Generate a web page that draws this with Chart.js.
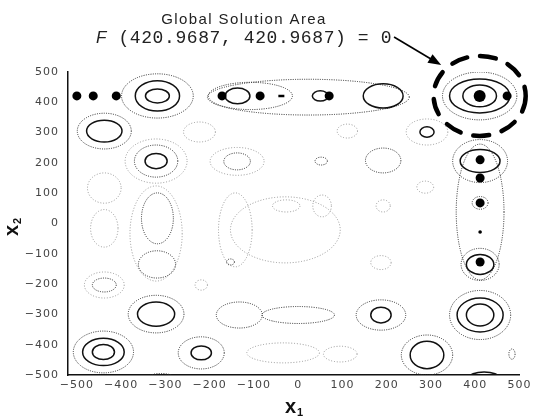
<!DOCTYPE html>
<html>
<head>
<meta charset="utf-8">
<script src="https://cdn.jsdelivr.net/npm/chart.js@4.4.1/dist/chart.umd.min.js"></script>
<style>
  html, body { margin: 0; padding: 0; background: #fff; }
</style>
</head>
<body>
<canvas id="chart" width="534" height="416"></canvas>
<script>
const xTicks = [-500, -400, -300, -200, -100, 0, 100, 200, 300, 400, 500];
const yTicks = [-500, -400, -300, -200, -100, 0, 100, 200, 300, 400, 500];

// local minima (black dots)
const minimaX = [-500, -463, -411, -172, -86, 70, 472, 411, 411, 411, 411];
const minimaY = [421, 421, 421, 421, 421, 421, 421, 210, 150, 68, -127];
const globalX = [410];
const globalY = [421];
const dashX = [-38];
const dashY = [421];
const tinyX = [411];
const tinyY = [-28];

// dashed "global solution area" half-widths around the global minimum
const solutionArea = [104, 132];

// contour rings: [centre x, centre y, half width, half height]
const solidRings = [
  [-318, 421, 27, 23], [-318, 421, 50, 50], [-137, 421, 28, 26], [50, 421, 18, 17],
  [192, 421, 45, 40], [410, 421, 38, 36], [410, 421, 68, 56],
  [-438, 305, 40, 36], [291, 302, 16, 17],
  [-321, 206, 25, 25], [411, 206, 45, 38],
  [411, -135, 31, 33],
  [-321, -299, 42, 40], [187, -302, 23, 26], [411, -302, 31, 36], [411, -302, 52, 56],
  [-440, -424, 25, 25], [-440, -424, 47, 45], [-219, -427, 23, 23], [291, -434, 38, 45],
  [420, -510, 35, 20]
];
const dottedRings = [
  [-318, 421, 81, 73], [-108, 421, 95, 45], [23, 417, 228, 59], [410, 421, 84, 79],
  [-438, 305, 61, 59],
  [-321, 206, 49, 53], [-138, 205, 30, 28], [52, 206, 14, 13], [192, 208, 40, 41], [411, 206, 62, 71],
  [-318, 17, 36, 84], [-319, -135, 42, 45], [411, 38, 54, 224], [411, -135, 43, 53],
  [411, 68, 18, 21], [-153, -127, 9, 10],
  [-438, -203, 27, 23],
  [-321, -299, 63, 62], [-133, -302, 52, 43], [0, -302, 82, 28], [187, -302, 56, 50], [411, -302, 69, 81],
  [-440, -424, 68, 69], [-219, -427, 52, 53], [291, -434, 58, 66], [483, -431, 7, 17],
  [-310, -515, 35, 20]
];
const faintRings = [
  [-223, 302, 36, 33], [111, 305, 23, 23], [291, 302, 47, 43],
  [-321, 206, 70, 73], [-138, 205, 61, 46],
  [-438, 117, 38, 50], [-438, -16, 31, 62], [-321, -33, 59, 157], [-142, -21, 38, 122],
  [-27, 58, 31, 20], [54, 58, 21, 36], [192, 58, 16, 20], [187, -129, 23, 23], [287, 120, 19, 20],
  [-29, -21, 124, 109],
  [-438, -203, 45, 43], [-219, -203, 14, 17],
  [-34, -427, 82, 33], [95, -431, 38, 26]
];

const pts = (xs, ys) => xs.map((x, i) => ({ x: x, y: ys[i] }));
const fmt = v => v < 0 ? '\u2212' + (-v) : String(v);

function ellipse(ctx, xs, ys, r) {
  const cx = xs.getPixelForValue(r[0]);
  const cy = ys.getPixelForValue(r[1]);
  const rx = Math.abs(xs.getPixelForValue(r[0] + r[2]) - cx);
  const ry = Math.abs(ys.getPixelForValue(r[1] + r[3]) - cy);
  ctx.beginPath();
  ctx.ellipse(cx, cy, rx, ry, 0, 0, Math.PI * 2);
  ctx.stroke();
}

const contours = {
  id: 'contours',
  beforeDraw(chart) {
    chart.ctx.letterSpacing = '1px';
  },
  beforeDatasetsDraw(chart) {
    const { ctx, chartArea: a, scales: { x, y } } = chart;
    ctx.save();
    ctx.beginPath();
    ctx.rect(a.left, a.top, a.width, a.height);
    ctx.clip();
    ctx.lineWidth = 1;
    ctx.strokeStyle = '#959595';
    ctx.setLineDash([1, 1.8]);
    faintRings.forEach(r => ellipse(ctx, x, y, r));
    ctx.strokeStyle = '#2a2a2a';
    ctx.setLineDash([1, 1.3]);
    dottedRings.forEach(r => ellipse(ctx, x, y, r));
    ctx.strokeStyle = '#111';
    ctx.lineWidth = 1.5;
    ctx.setLineDash([]);
    solidRings.forEach(r => ellipse(ctx, x, y, r));
    ctx.restore();
  },
  afterDraw(chart) {
    const { ctx, scales: { x, y } } = chart;
    ctx.save();
    ctx.letterSpacing = '0px';

    // dashed solution area
    const cx = x.getPixelForValue(globalX[0]);
    const cy = y.getPixelForValue(globalY[0]);
    const rx = Math.abs(x.getPixelForValue(globalX[0] + solutionArea[0]) - cx);
    const ry = Math.abs(y.getPixelForValue(globalY[0] + solutionArea[1]) - cy);
    ctx.strokeStyle = '#000';
    ctx.lineWidth = 4.5;
    ctx.lineCap = 'round';
    ctx.setLineDash([16, 13]);
    ctx.beginPath();
    ctx.ellipse(cx, cy, rx, ry, 0, 0, Math.PI * 2);
    ctx.stroke();
    ctx.setLineDash([]);
    ctx.lineCap = 'butt';

    // header text
    ctx.fillStyle = '#222';
    ctx.textBaseline = 'alphabetic';
    ctx.textAlign = 'center';
    ctx.font = '15px "Liberation Sans"';
    ctx.letterSpacing = '1.4px';
    ctx.fillText('Global Solution Area', 244, 24);
    ctx.textAlign = 'left';
    ctx.font = 'italic 17px "Liberation Sans"';
    ctx.letterSpacing = '0px';
    ctx.fillText('F', 96, 43);
    ctx.font = '18px "Liberation Mono"';
    ctx.letterSpacing = '0.6px';
    const rest = ' (420.9687, 420.9687) = 0';
    ctx.fillText(rest, 107, 43);
    const endX = 107 + ctx.measureText(rest).width + 2;

    // arrow to the dashed ring
    const tipX = cx - (rx + 6) * 0.74;
    const tipY = cy - (ry + 6) * 0.67;
    const ang = Math.atan2(tipY - 37, tipX - endX);
    ctx.strokeStyle = '#000';
    ctx.lineWidth = 1.6;
    ctx.beginPath();
    ctx.moveTo(endX, 37);
    ctx.lineTo(tipX - 8 * Math.cos(ang), tipY - 8 * Math.sin(ang));
    ctx.stroke();
    ctx.fillStyle = '#000';
    ctx.beginPath();
    ctx.moveTo(tipX, tipY);
    ctx.lineTo(tipX - 13 * Math.cos(ang) + 5 * Math.sin(ang), tipY - 13 * Math.sin(ang) - 5 * Math.cos(ang));
    ctx.lineTo(tipX - 13 * Math.cos(ang) - 5 * Math.sin(ang), tipY - 13 * Math.sin(ang) + 5 * Math.cos(ang));
    ctx.closePath();
    ctx.fill();

    // axis titles x1 / x2
    ctx.fillStyle = '#111';
    ctx.letterSpacing = '0px';
    ctx.font = 'bold 20px "Liberation Sans"';
    ctx.fillText('x', 285, 413);
    ctx.font = 'bold 11px "Liberation Sans"';
    ctx.fillText('1', 297, 416);
    ctx.translate(18, 236);
    ctx.rotate(-Math.PI / 2);
    ctx.font = 'bold 20px "Liberation Sans"';
    ctx.fillText('x', 0, 0);
    ctx.font = 'bold 11px "Liberation Sans"';
    ctx.fillText('2', 12, 3);
    ctx.restore();
  }
};

const tickFont = { family: '"DejaVu Sans"', size: 11 };

new Chart(document.getElementById('chart'), {
  type: 'scatter',
  data: {
    datasets: [
      { data: pts(minimaX, minimaY), pointRadius: 4.5, backgroundColor: '#000', borderWidth: 0 },
      { data: pts(globalX, globalY), pointRadius: 6, backgroundColor: '#000', borderWidth: 0 },
      { data: pts(dashX, dashY), pointStyle: 'line', pointRadius: 3, borderColor: '#000', borderWidth: 2.5 },
      { data: pts(tinyX, tinyY), pointRadius: 1.8, backgroundColor: '#000', borderWidth: 0 }
    ]
  },
  options: {
    responsive: false,
    animation: false,
    events: [],
    layout: { padding: { top: 72, right: 14, left: 0, bottom: 0 } },
    plugins: { legend: { display: false }, tooltip: { enabled: false } },
    scales: {
      x: {
        type: 'linear', min: -520, max: 500,
        afterFit: s => { s.height = 41; },
        afterBuildTicks: s => { s.ticks = xTicks.map(v => ({ value: v })); },
        grid: { display: false, drawTicks: false },
        border: { display: true, color: '#111', width: 1.5 },
        ticks: { color: '#444', font: tickFont, padding: 4, maxRotation: 0, autoSkip: false, callback: fmt }
      },
      y: {
        type: 'linear', min: -500, max: 500,
        afterFit: s => { s.width = 68; },
        afterBuildTicks: s => { s.ticks = yTicks.map(v => ({ value: v })); },
        grid: { display: false, drawTicks: false },
        border: { display: true, color: '#111', width: 1.5 },
        ticks: { color: '#444', font: tickFont, padding: 9, autoSkip: false, callback: fmt }
      }
    }
  },
  plugins: [contours]
});
</script>
</body>
</html>
